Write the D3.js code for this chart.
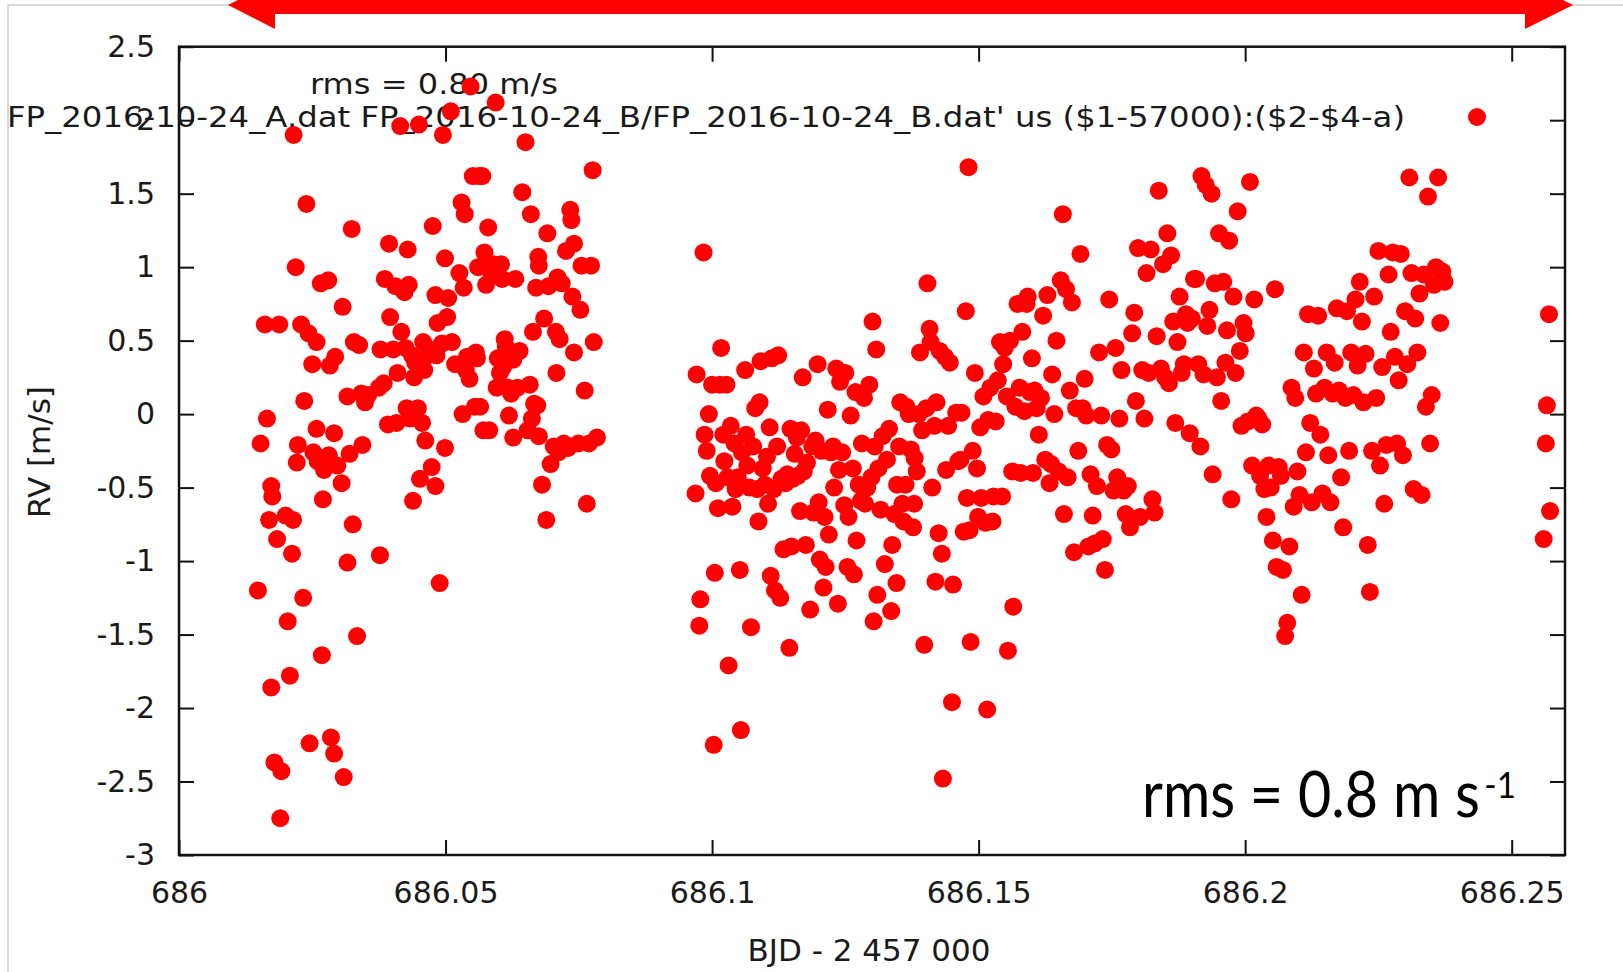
<!DOCTYPE html>
<html>
<head>
<meta charset="utf-8">
<script src="https://cdn.jsdelivr.net/npm/d3@7"></script>
<style>
  html, body { margin: 0; padding: 0; background: #fff; }
  svg { display: block; }
  .gp { font-family: "DejaVu Sans", sans-serif; fill: #1a1a1a; }
</style>
</head>
<body>
<svg id="chart" width="1623" height="972"></svg>
<script>
// first night segment
const bjdA = [686.0148, 686.0153, 686.0161, 686.0165, 686.0173, 686.0175, 686.0169, 686.0173, 686.0179, 686.0184,
  686.0188, 686.0192, 686.0190, 686.0200, 686.0204, 686.0208, 686.0212, 686.0215, 686.0219, 686.0221,
  686.0223, 686.0214, 686.0229, 686.0233, 686.0235, 686.0239, 686.0243, 686.0245, 686.0250, 686.0252,
  686.0258, 686.0258, 686.0260, 686.0266, 686.0268, 686.0270, 686.0272, 686.0280, 686.0281, 686.0283,
  686.0285, 686.0291, 686.0291, 686.0293, 686.0297, 686.0305, 686.0307, 686.0309, 686.0316, 686.0316,
  686.0320, 686.0324, 686.0326, 686.0328, 686.0334, 686.0338, 686.0342, 686.0344, 686.0349, 686.0355,
  686.0375, 686.0377, 686.0378, 686.0384, 686.0386, 686.0392, 686.0394, 686.0396, 686.0402, 686.0406,
  686.0408, 686.0410, 686.0415, 686.0417, 686.0423, 686.0425, 686.0429, 686.0427, 686.0431, 686.0433,
  686.0437, 686.0441, 686.0439, 686.0443, 686.0450, 686.0448, 686.0452, 686.0456, 686.0458, 686.0460,
  686.0462, 686.0466, 686.0470, 686.0474, 686.0476, 686.0481, 686.0481, 686.0483, 686.0485, 686.0489,
  686.0493, 686.0495, 686.0499, 686.0499, 686.0503, 686.0505, 686.0510, 686.0512, 686.0518, 686.0526,
  686.0530, 686.0532, 686.0534, 686.0536, 686.0538, 686.0540, 686.0545, 686.0547, 686.0551, 686.0555,
  686.0557, 686.0559, 686.0561, 686.0563, 686.0565, 686.0569, 686.0571, 686.0573, 686.0576, 686.0580,
  686.0582, 686.0586, 686.0590, 686.0594, 686.0596, 686.0598, 686.0602, 686.0604, 686.0606, 686.0608,
  686.0611, 686.0613, 686.0617, 686.0619, 686.0623, 686.0627, 686.0627, 686.0631, 686.0635, 686.0639,
  686.0644, 686.0650, 686.0654, 686.0658, 686.0660, 686.0662, 686.0664, 686.0666, 686.0670, 686.0672,
  686.0674, 686.0675, 686.0675, 686.0681, 686.0685, 686.0689, 686.0691, 686.0693, 686.0697, 686.0703,
  686.0707, 686.0708, 686.0710, 686.0712, 686.0714, 686.0718, 686.0722, 686.0726, 686.0730, 686.0734,
  686.0736, 686.0738, 686.0741, 686.0741, 686.0749, 686.0753, 686.0755, 686.0761, 686.0765, 686.0769,
  686.0773, 686.0776, 686.0778, 686.0784];
const rvA = [-1.20, -0.20, 0.61, -0.03, -0.49, -0.56, -0.72, -1.86, -2.37, -0.85,
  0.61, -2.43, -2.75, -0.69, -1.41, -1.78, -0.95, 1.90, 1.00, -0.33,
  -0.21, -0.72, 0.61, -1.25, 0.09, 1.43, 0.55, -2.24, 0.34, -0.26,
  0.49, -0.10, -0.32, 0.89, -1.64, -0.58, -0.38, 0.91, -0.28, 0.33,
  -2.20, -2.31, -0.13, 0.39, -0.35, -0.47, 0.73, -2.47, 0.12, -1.01,
  -0.27, 1.26, -0.75, 0.49, -1.51, 0.47, 0.14, -0.21, 0.08, 0.13,
  0.18, -0.96, 0.44, 0.21, 0.92, -0.07, 1.16, 0.66, 0.44, 0.87,
  -0.06, 0.28, 1.96, 0.56, 0.83, 0.45, 1.12, 0.04, 0.88, -0.03,
  0.40, 0.25, -0.59, 0.35, 1.97, 0.04, -0.44, -0.06, 0.49, 0.30,
  -0.18, 0.40, 0.44, -0.36, 1.28, 0.81, -0.49, 0.40, 0.62, -1.15,
  0.48, 1.90, 1.06, -0.23, 0.66, 0.79, 2.06, 0.49, 0.34, 0.96,
  1.44, 0.00, 0.86, 1.36, 0.30, 0.39, 0.24, 2.23, 1.62, 0.05,
  0.42, 0.38, 1.00, 1.62, 0.05, 1.62, -0.11, 1.10, 0.88, 1.27,
  -0.11, 0.95, 1.02, 2.12, 0.18, 0.38, 0.28, 1.02, 0.92, 0.32,
  0.51, 0.46, 0.18, -0.01, 0.14, 0.37, -0.16, 0.92, 0.18, 0.43,
  1.51, 1.85, -0.11, 0.20, 1.36, -0.03, 0.56, 0.07, 0.86, 0.06,
  1.07, 1.01, -0.15, -0.48, 0.65, -0.72, 1.23, 0.87, -0.34, -0.22,
  0.56, 0.28, 0.93, -0.26, 0.51, 0.89, -0.20, 1.11, -0.23, 1.39,
  1.32, 0.80, 0.42, 1.16, -0.20, 0.71, 1.01, 0.16, -0.61, -0.20,
  1.01, 1.66, 0.49, -0.16];

// second night segment
const bjdB = [686.0969, 686.0971, 686.0976, 686.0978, 686.0984, 686.0986, 686.0990, 686.0994, 686.0996, 686.1000,
  686.1003, 686.1005, 686.1007, 686.1011, 686.1015, 686.1017, 686.1021, 686.1023, 686.1027, 686.1029,
  686.1031, 686.1035, 686.1038, 686.1042, 686.1044, 686.1048, 686.1052, 686.1054, 686.1056, 686.1062,
  686.1064, 686.1066, 686.1070, 686.1073, 686.1077, 686.1081, 686.1085, 686.1087, 686.1089, 686.1091,
  686.1095, 686.1099, 686.1103, 686.1105, 686.1108, 686.1110, 686.1112, 686.1116, 686.1118, 686.1122,
  686.1124, 686.1128, 686.1130, 686.1134, 686.1138, 686.1141, 686.1145, 686.1147, 686.1149, 686.1151,
  686.1155, 686.1159, 686.1161, 686.1165, 686.1167, 686.1170, 686.1172, 686.1176, 686.1178, 686.1184,
  686.1188, 686.1190, 686.1194, 686.1198, 686.1200, 686.1202, 686.1205, 686.1209, 686.1211, 686.1213,
  686.1217, 686.1219, 686.1223, 686.1227, 686.1229, 686.1233, 686.1236, 686.1238, 686.1240, 686.1244,
  686.1248, 686.1250, 686.1254, 686.1256, 686.1260, 686.1264, 686.1266, 686.1269, 686.1271, 686.1275,
  686.1279, 686.1281, 686.1285, 686.1287, 686.1291, 686.1295, 686.1299, 686.1301, 686.1303, 686.1305,
  686.1308, 686.1310, 686.1312, 686.1316, 686.1320, 686.1324, 686.1328, 686.1332, 686.1336, 686.1338,
  686.1342, 686.1346, 686.1347, 686.1351, 686.1353, 686.1357, 686.1359, 686.1363, 686.1365, 686.1369,
  686.1373, 686.1377, 686.1379, 686.1380, 686.1384, 686.1388, 686.1390, 686.1394, 686.1398, 686.1402,
  686.1404, 686.1408, 686.1410, 686.1413, 686.1417, 686.1419, 686.1421, 686.1425, 686.1427, 686.1431,
  686.1433, 686.1437, 686.1439, 686.1443, 686.1446, 686.1450, 686.1452, 686.1458, 686.1462, 686.1466,
  686.1468, 686.1472, 686.1476, 686.1478, 686.1481, 686.1483, 686.1485, 686.1489, 686.1493, 686.1497,
  686.1499, 686.1503, 686.1505, 686.1509, 686.1513, 686.1516, 686.1518, 686.1522, 686.1526, 686.1528,
  686.1532, 686.1536, 686.1540, 686.1544, 686.1546, 686.1549, 686.1553, 686.1555, 686.1559, 686.1563,
  686.1565, 686.1569, 686.1573, 686.1577, 686.1579, 686.1582, 686.1586, 686.1590, 686.1592, 686.1596,
  686.1600, 686.1602, 686.1605, 686.1609, 686.1613, 686.1617, 686.1621, 686.1625, 686.1629, 686.1633,
  686.1636, 686.1638, 686.1642, 686.1646, 686.1650, 686.1654, 686.1658, 686.1660, 686.1664, 686.1667,
  686.1671, 686.1675, 686.1679, 686.1683, 686.1687, 686.1691, 686.1695, 686.1699, 686.1702, 686.1706,
  686.1710, 686.1714, 686.1718, 686.1722, 686.1726, 686.1730, 686.1733, 686.1737, 686.1741, 686.1745,
  686.1749, 686.1753, 686.1757, 686.1760, 686.1764, 686.1768, 686.1772, 686.1776, 686.1780, 686.1784,
  686.1788, 686.1792, 686.1795, 686.1799, 686.1803, 686.1807, 686.1811, 686.1815, 686.1819, 686.1823,
  686.1826, 686.1830, 686.1834, 686.1838, 686.1842, 686.1846, 686.1850, 686.1854, 686.1857, 686.1861,
  686.1865, 686.1869, 686.1873, 686.1877, 686.1881, 686.1885, 686.1889, 686.1892, 686.1896, 686.1900,
  686.1904, 686.1908, 686.1912, 686.1916, 686.1918, 686.1922, 686.1926, 686.1929, 686.1933, 686.1937,
  686.1939, 686.1943, 686.1947, 686.1951, 686.1955, 686.1959, 686.1963, 686.1966, 686.1970, 686.1974,
  686.1978, 686.1982, 686.1986, 686.1990, 686.1993, 686.1997, 686.2001, 686.2005, 686.2009, 686.2013,
  686.2017, 686.2021, 686.2025, 686.2028, 686.2032, 686.2036, 686.2040, 686.2044, 686.2048, 686.2052,
  686.2056, 686.2059, 686.2063, 686.2067, 686.2071, 686.2075, 686.2079, 686.2083, 686.2087, 686.2091,
  686.2094, 686.2098, 686.2102, 686.2106, 686.2110, 686.2114, 686.2118, 686.2122, 686.2125, 686.2129,
  686.2133, 686.2137, 686.2141, 686.2145, 686.2149, 686.2153, 686.2156, 686.2160, 686.2164, 686.2168,
  686.2172, 686.2176, 686.2180, 686.2184, 686.2188, 686.2191, 686.2195, 686.2199, 686.2203, 686.2207,
  686.2211, 686.2215, 686.2219, 686.2222, 686.2226, 686.2230, 686.2234, 686.2238, 686.2242, 686.2246,
  686.2250, 686.2253, 686.2257, 686.2261, 686.2265, 686.2269, 686.2273, 686.2277, 686.2281, 686.2285,
  686.2288, 686.2292, 686.2296, 686.2300, 686.2304, 686.2308, 686.2312, 686.2316, 686.2319, 686.2323,
  686.2327, 686.2331, 686.2335, 686.2339, 686.2343, 686.2347, 686.2350, 686.2354, 686.2358, 686.2362,
  686.2366, 686.2370, 686.2374];
const rvB = [-0.54, 0.27, -1.44, -1.26, 1.10, -0.14, -0.25, 0.00, -0.42, 0.20,
  -2.25, -1.08, -0.47, -0.64, 0.20, 0.45, -0.14, -0.32, 0.20, -0.43,
  -1.71, -0.08, -0.63, -0.20, -0.51, -0.43, -1.06, -2.15, -0.26, 0.30,
  -0.14, -0.35, -0.50, -1.45, -0.22, 0.04, -0.51, -0.73, 0.08, 0.36,
  -0.37, -0.48, -0.29, -0.61, -0.09, -1.10, 0.38, -0.51, -1.20, -0.22,
  0.40, -1.25, -0.44, -0.92, -0.47, -0.41, -1.59, -0.10, -0.90, -0.44,
  -0.27, -0.16, -0.42, -0.66, -0.11, 0.25, -0.39, -0.89, -0.33, -1.33,
  -0.22, -0.67, -0.18, 0.34, -0.60, -0.99, -0.25, -1.18, -0.70, -1.04,
  0.03, -0.82, -0.26, -0.22, -0.50, 0.31, -1.29, -0.38, 0.22, -0.26,
  -0.62, 0.28, -1.04, -0.70, -0.01, -0.37, -1.09, 0.15, -0.86, -0.48,
  -0.59, -0.20, 0.11, -0.61, -0.50, 0.20, -0.43, 0.63, -1.41, -0.22,
  0.44, -1.23, -0.37, -0.65, -0.15, -1.02, -0.31, -0.10, -1.34, -0.89,
  -0.68, -1.15, -0.48, -0.22, 0.08, -0.61, -0.73, -0.48, 0.05, 0.00,
  -0.24, -0.77, -0.61, -0.30, -0.39, 0.00, 0.42, -0.11, -1.57, 0.04,
  0.89, 0.58, 0.49, -0.50, -0.08, -1.14, 0.08, -0.81, 0.43, -0.95,
  -2.48, 0.39, -0.38, -0.08, 0.35, -1.96, -1.16, 0.01, -0.32, -0.31,
  0.01, -0.80, 0.70, -0.57, 1.68, -0.79, -1.55, -0.25, 0.28, -0.37,
  -0.70, -0.09, -0.57, 0.12, -0.74, -2.01, -0.04, 0.18, -0.73, -0.56,
  -0.05, 0.23, 0.49, -0.56, 0.34, 0.45, 0.12, -1.61, 0.50, -0.39,
  -1.31, 0.05, 0.75, 0.18, -0.40, 0.56, 0.02, 0.75, 0.80, 0.15,
  0.38, -0.40, 0.16, 0.04, -0.14, 0.11, 0.67, -0.31, 0.81, -0.47,
  -0.34, 0.27, 0.00, 0.50, -0.39, 0.91, 1.36, -0.68, 0.85, -0.43,
  0.16, 0.76, -0.94, 0.04, -0.25, 1.09, 0.04, 0.24, -0.01, -0.90,
  -0.41, -0.69, -0.88, -0.49, 0.42, -0.01, -0.85, -1.06, -0.21, 0.78,
  -0.24, -0.52, 0.45, -0.43, -0.03, 0.30, -0.52, -0.68, -0.49, -0.77,
  0.55, 0.69, 0.09, 1.13, -0.70, 0.30, -0.03, 0.96, 0.28, 1.12,
  -0.58, -0.67, 0.53, 1.52, 0.31, 1.02, 0.25, 1.23, 0.21, 1.08,
  0.63, -0.06, 0.49, 0.80, 0.28, 0.34, 0.68, 0.62, -0.13, 0.65,
  0.92, 0.92, 0.34, -0.22, 1.62, 0.27, 1.56, 0.60, 0.71, 1.50,
  -0.41, 0.89, 0.25, 1.23, 0.09, 0.90, 0.35, 0.57, 1.18, -0.58,
  0.80, 0.28, 1.38, 0.43, -0.08, 0.62, 0.55, -0.05, 1.58, -0.35,
  0.78, -0.01, -0.03, -0.42, -0.07, -0.51, -0.70, -0.35, -0.50, -0.86,
  0.85, -1.04, -0.36, -0.42, -1.06, -1.51, -1.42, -0.90, 0.18, -0.63,
  0.11, -0.39, -0.55, -1.23, 0.42, -0.26, 0.68, -0.06, -0.60, 0.31,
  0.14, 0.67, -0.14, -0.54, 0.18, 0.42, -0.28, -0.60, 0.14, 0.35,
  0.72, 0.16, -0.43, -0.77, 0.11, 0.70, -0.25, 0.42, 0.13, 0.78,
  0.33, 0.90, 0.63, 0.08, 0.41, -0.89, -1.21, -0.25, 0.80, 0.11,
  1.11, -0.35, 0.32, -0.61, -0.21, 0.95, 0.56, 1.10, 0.39, -0.20,
  0.23, 1.09, -0.28, 0.70, 0.34, 1.61, 0.96, -0.51, 0.65, 0.42,
  0.82, -0.55, 0.95, 0.05, 1.48, -0.20, 0.13, 0.88, 1.00, 1.61,
  0.62, 0.97, 0.90];

// last few points at the right edge
const bjdC = [686.2560, 686.2564, 686.2566, 686.2570, 686.2572];
const rvC = [-0.85, -0.20, 0.06, 0.68, -0.66];

const xTickValues = [686, 686.05, 686.1, 686.15, 686.2, 686.25];
const yTickValues = [-3, -2.5, -2, -1.5, -1, -0.5, 0, 0.5, 1, 1.5, 2, 2.5];

const keyLabel = "FP_2016-10-24_A.dat FP_2016-10-24_B/FP_2016-10-24_B.dat' us ($1-57000):($2-$4-a)";
const rmsLabel = 'rms = 0.80 m/s';

const svg = d3.select('#chart');
const plotLeft = 179, plotRight = 1565, plotTop = 46.7, plotBottom = 855;

const x = d3.scaleLinear().domain([686, 686.26]).range([plotLeft, plotRight]);
const y = d3.scaleLinear().domain([-3, 2.5]).range([plotBottom, plotTop]);

const points = [];
[[bjdA, rvA], [bjdB, rvB], [bjdC, rvC]].forEach(([bs, rs]) => {
  bs.forEach((b, i) => points.push({ bjd: b, rv: rs[i] }));
});

// slide picture border + red arrow across the top
svg.append('path')
  .attr('d', 'M8,972V5H1623')
  .attr('fill', 'none')
  .attr('stroke', '#cccccc')
  .attr('stroke-width', 1.5);

svg.append('polygon')
  .attr('points', '228,5 275,-19 275,-4 1525,-4 1525,-19 1573,5 1525,29 1525,14 275,14 275,29')
  .attr('fill', '#ff0000');

// axes: inward ticks on all four sides, labels on left and bottom only
const fmt = (d) => String(d);

svg.append('g')
  .attr('class', 'gp')
  .attr('transform', `translate(0,${plotBottom})`)
  .call(d3.axisBottom(x).tickValues(xTickValues).tickSizeInner(-15).tickSizeOuter(0).tickPadding(27).tickFormat(fmt))
  .call((g) => g.select('.domain').remove());

svg.append('g')
  .attr('transform', `translate(0,${plotTop})`)
  .call(d3.axisTop(x).tickValues(xTickValues).tickSizeInner(-15).tickSizeOuter(0).tickFormat(''))
  .call((g) => g.select('.domain').remove());

svg.append('g')
  .attr('class', 'gp')
  .attr('transform', `translate(${plotLeft},0)`)
  .call(d3.axisLeft(y).tickValues(yTickValues).tickSizeInner(-15).tickSizeOuter(0).tickPadding(24).tickFormat(fmt))
  .call((g) => g.select('.domain').remove());

svg.append('g')
  .attr('transform', `translate(${plotRight},0)`)
  .call(d3.axisRight(y).tickValues(yTickValues).tickSizeInner(-15).tickSizeOuter(0).tickFormat(''))
  .call((g) => g.select('.domain').remove());

svg.selectAll('.tick line').attr('stroke', '#111').attr('stroke-width', 2);
svg.selectAll('.gp .tick text')
  .attr('font-family', '"DejaVu Sans", sans-serif')
  .attr('font-size', 30)
  .attr('fill', '#1a1a1a');

svg.append('rect')
  .attr('x', plotLeft).attr('y', plotTop)
  .attr('width', plotRight - plotLeft).attr('height', plotBottom - plotTop)
  .attr('fill', 'none')
  .attr('stroke', '#111')
  .attr('stroke-width', 2.5);

// axis titles
svg.append('text')
  .attr('class', 'gp')
  .attr('x', 869).attr('y', 961)
  .attr('text-anchor', 'middle')
  .attr('font-size', 31)
  .text('BJD - 2 457 000');

svg.append('text')
  .attr('class', 'gp')
  .attr('transform', 'translate(50,452) rotate(-90)')
  .attr('text-anchor', 'middle')
  .attr('font-size', 31)
  .text('RV [m/s]');

// gnuplot key and label (drawn before the points, which sit on top)
svg.append('text')
  .attr('class', 'gp')
  .attr('x', 310).attr('y', 94)
  .attr('font-size', 28)
  .attr('textLength', 248)
  .attr('lengthAdjust', 'spacingAndGlyphs')
  .text(rmsLabel);

svg.append('text')
  .attr('class', 'gp')
  .attr('x', 7).attr('y', 127)
  .attr('font-size', 28)
  .attr('textLength', 1398)
  .attr('lengthAdjust', 'spacingAndGlyphs')
  .text(keyLabel);

svg.append('circle')
  .attr('cx', 1477).attr('cy', 117).attr('r', 9)
  .attr('fill', '#ff0000');

svg.append('g')
  .selectAll('circle')
  .data(points)
  .join('circle')
  .attr('cx', (d) => x(d.bjd))
  .attr('cy', (d) => y(d.rv))
  .attr('r', 9)
  .attr('fill', '#ff0000');

// slide annotation, superscript kept in the same text element
const note = svg.append('text')
  .attr('x', 1142).attr('y', 817)
  .attr('font-family', 'Lato, "Open Sans", sans-serif')
  .attr('font-size', 64)
  .attr('textLength', 374)
  .attr('lengthAdjust', 'spacingAndGlyphs')
  .attr('fill', '#000');
note.append('tspan').text('rms = 0.8 m s');
note.append('tspan')
  .attr('dx', 5).attr('dy', -19)
  .attr('font-size', 37)
  .text('-1');
</script>
</body>
</html>
